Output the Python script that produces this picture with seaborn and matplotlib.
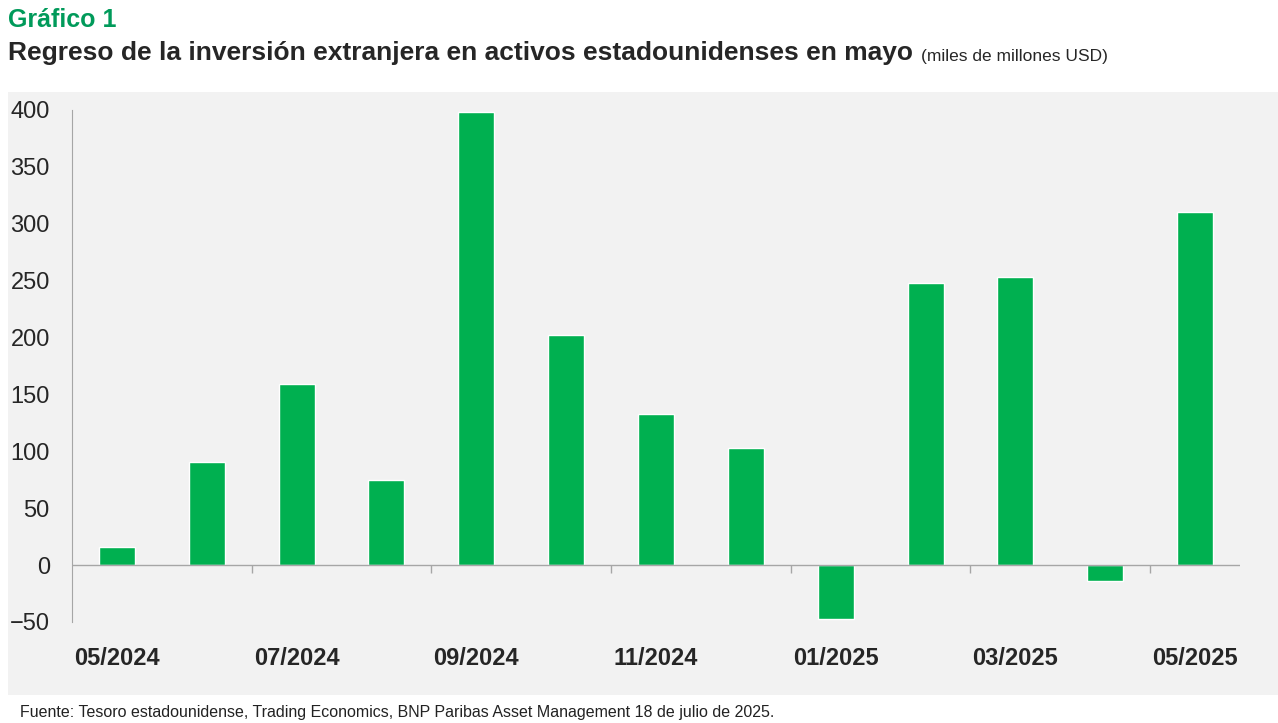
import numpy as np
import pandas as pd
import seaborn as sns
import matplotlib.pyplot as plt

months = ["05/2024", "06/2024", "07/2024", "08/2024", "09/2024", "10/2024", "11/2024",
          "12/2024", "01/2025", "02/2025", "03/2025", "04/2025", "05/2025"]
values = [16, 91, 159, 75, 398, 202, 133, 103, -47, 248, 253, -14, 310]
shown_labels = ["05/2024", "07/2024", "09/2024", "11/2024", "01/2025", "03/2025", "05/2025"]

sns.set_style("white")
plt.rcParams['font.family'] = ['Liberation Sans', 'DejaVu Sans']

fig = plt.figure(figsize=(12.78, 7.23), dpi=100)
# grey panel behind the chart
bg = fig.add_axes([8 / 1278, 1 - 695 / 723, 1270 / 1278, 603 / 723], zorder=-1)
bg.set_facecolor("#f2f2f2")
bg.set_xticks([])
bg.set_yticks([])
for s in bg.spines.values():
    s.set_visible(False)

ax = fig.add_axes([72 / 1278, 1 - 622 / 723, 1168 / 1278, 512 / 723], zorder=1)
ax.set_facecolor("none")
df = pd.DataFrame({"month": months, "value": values})
sns.barplot(data=df, x="month", y="value", color="#00b050", saturation=1, width=0.4, ax=ax)

ax.set_xlim(-0.5, 12.5)
ax.set_ylim(-50, 400)
ax.set_yticks(range(-50, 401, 50))
ax.tick_params(axis="y", labelsize=17, length=0, pad=16)
ax.set_xticks([months.index(m) for m in shown_labels])
ax.set_xticklabels(shown_labels, fontsize=17, fontweight="bold")
ax.tick_params(axis="x", length=0, pad=18)
ax.set_xlabel("")
ax.set_ylabel("")

for s in ["top", "right", "bottom"]:
    ax.spines[s].set_visible(False)
ax.spines["left"].set_color("#a6a6a6")
ax.axhline(0, color="#a6a6a6", lw=1)
ax.vlines([i + 0.5 for i in range(1, 12, 2)], -7, 0, color="#a6a6a6", lw=1)

fig.text(8 / 1278, 1 - 20 / 723, "Gráfico 1", fontsize=18, fontweight="bold",
         color="#009a5a", va="center")
fig.text(8 / 1278, 1 - 53 / 723, "Regreso de la inversión extranjera en activos estadounidenses en mayo",
         fontsize=19, fontweight="bold", va="center")
fig.text(921 / 1278, 1 - 56 / 723, "(miles de millones USD)", fontsize=12.5, va="center")
fig.text(20 / 1278, 1 - 712 / 723,
         "Fuente: Tesoro estadounidense, Trading Economics, BNP Paribas Asset Management 18 de julio de 2025.",
         fontsize=11.5, va="center", color="#222222")

fig.savefig("out.png", dpi=100)
